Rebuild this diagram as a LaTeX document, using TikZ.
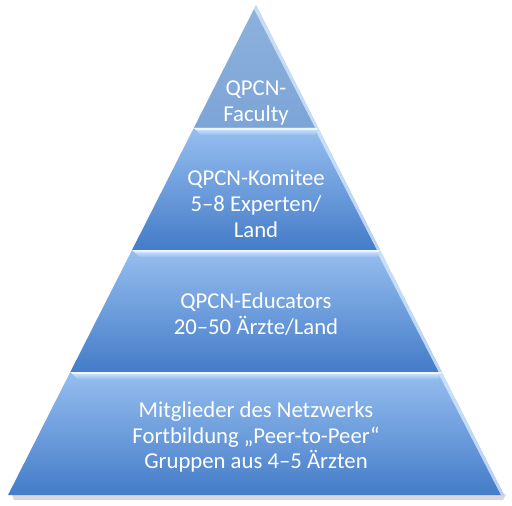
\documentclass[tikz,border=0pt]{standalone}
\usepackage{fontspec}
\setmainfont{Carlito}
\definecolor{apextop}{RGB}{142,178,222}
\definecolor{apexbot}{RGB}{124,164,214}
\definecolor{pyrtop}{RGB}{150,190,240}
\definecolor{pyrbot}{RGB}{68,124,200}
\definecolor{bevel}{RGB}{215,233,252}
\begin{document}
\begin{tikzpicture}[x=1bp,y=-1bp,
    layertext/.style={text=white, align=center, font=\fontsize{22.8}{26}\selectfont}]
  \useasboundingbox (0,0) rectangle (512,506);
  % shadow under the base
  \fill[black!30, opacity=0.5] (12,494) -- (506,494) -- (503,500) -- (14,500) -- cycle;
  % layers
  \foreach \yt/\yb/\ct/\cb in {5/128/apextop/apexbot, 128/250/pyrtop/pyrbot,
      250/372/pyrtop/pyrbot, 372/495/pyrtop/pyrbot}
   {
    \pgfmathsetmacro\xlt{256-0.506*(\yt-5)}
    \pgfmathsetmacro\xrt{256+0.506*(\yt-5)}
    \pgfmathsetmacro\xlb{256-0.506*(\yb-5)}
    \pgfmathsetmacro\xrb{256+0.506*(\yb-5)}
    \shade[top color=\ct, bottom color=\cb]
      (\xlt,\yt) -- (\xrt,\yt) -- (\xrb,\yb) -- (\xlb,\yb) -- cycle;
    % right edge
    \fill[bevel, opacity=0.8]
      (\xrt,\yt) -- (\xrb,\yb) -- (\xrb-3,\yb) -- (\xrt-2,\yt+4) -- cycle;
    % top bevel
    \ifdim\yt pt>10pt
      \shade[top color=bevel, bottom color=\ct]
        (\xlt,\yt) -- (\xrt,\yt) -- (\xrt-3,\yt+7) -- (\xlt+7,\yt+7) -- cycle;
      \fill[white, opacity=0.6] (\xlt,\yt) -- (\xrt,\yt) -- (\xrt-1,\yt+2) -- (\xlt+2,\yt+2) -- cycle;
    \fi
   }
  \node[layertext] (faculty) at (256,103) {QPCN-\\Faculty};
  \node[layertext] (komitee) at (256,204) {QPCN-Komitee\\5–8 Experten/\\Land};
  \node[layertext] (educators) at (256,314) {QPCN-Educators\\20–50 Ärzte/Land};
  \node[layertext] (mitglieder) at (256,437) {Mitglieder des Netzwerks\\Fortbildung „Peer-to-Peer“\\Gruppen aus 4–5 Ärzten};
\end{tikzpicture}
\end{document}
